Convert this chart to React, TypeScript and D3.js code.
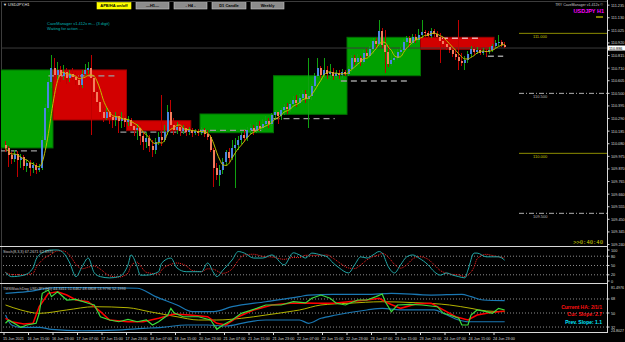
import React from "react";
import * as d3 from "d3";

// ---------- DATA ----------
const firstOpen = 110.07;
const closes = [
  110.045, 109.986, 109.953, 109.995, 109.945, 109.97, 109.895, 109.92, 109.878, 109.903,
  109.861, 109.878, 110.111, 110.378, 110.595, 110.711, 110.653, 110.695, 110.645, 110.678,
  110.628, 110.661, 110.636, 110.611, 110.57, 110.661, 110.695, 110.711, 110.628, 110.511,
  110.428, 110.345, 110.295, 110.345, 110.303, 110.278, 110.311, 110.27, 110.295, 110.261,
  110.278, 110.228, 110.195, 110.211, 110.145, 110.095, 110.128, 110.061, 110.028, 110.095,
  110.136, 110.111, 110.178, 110.345, 110.236, 110.195, 110.22, 110.186, 110.211, 110.178,
  110.195, 110.17, 110.186, 110.17, 110.195, 110.161, 110.136, 110.028, 109.878, 109.82,
  109.861, 109.928, 110.011, 109.961, 110.045, 110.07, 110.111, 110.153, 110.128, 110.195,
  110.211, 110.186, 110.228, 110.211, 110.245, 110.27, 110.245, 110.32, 110.345, 110.311,
  110.361, 110.386, 110.37, 110.411, 110.445, 110.42, 110.461, 110.495, 110.453, 110.478,
  110.561, 110.645, 110.711, 110.653, 110.695, 110.661, 110.678, 110.645, 110.67, 110.653,
  110.678, 110.661, 110.703, 110.795, 110.761, 110.795, 110.761, 110.836, 110.811, 110.87,
  110.936, 110.911, 111.02, 110.903, 110.845, 110.745, 110.778, 110.795, 110.845, 110.861,
  110.928, 110.961, 110.92, 110.97, 110.945, 110.986, 111.011, 111.003, 110.978, 111.02,
  110.995, 110.97, 110.936, 110.911, 110.886, 110.861, 110.828, 110.803, 110.77, 110.753,
  110.778, 110.828, 110.87, 110.845, 110.861, 110.836, 110.853, 110.845, 110.861, 110.895,
  110.92, 110.928, 110.903, 110.886,
];
const highs = [
  110.103, 110.061, 110.011, 110.028, 110.02, 109.995, 109.986, 109.945, 109.945, 109.928,
  109.92, 109.911, 110.145, 110.411, 110.628, 110.82, 110.795, 110.761, 110.728, 110.736,
  110.711, 110.695, 110.711, 110.678, 110.653, 110.695, 110.745, 110.761, 110.82, 110.645,
  110.545, 110.461, 110.378, 110.378, 110.361, 110.336, 110.345, 110.328, 110.345, 110.32,
  110.311, 110.295, 110.261, 110.245, 110.236, 110.178, 110.178, 110.153, 110.111, 110.128,
  110.178, 110.486, 110.236, 110.403, 110.445, 110.295, 110.261, 110.245, 110.236, 110.228,
  110.22, 110.211, 110.203, 110.203, 110.22, 110.211, 110.195, 110.153, 110.045, 109.92,
  109.903, 109.961, 110.028, 110.045, 110.111, 110.128, 110.145, 110.178, 110.195, 110.22,
  110.245, 110.236, 110.261, 110.27, 110.286, 110.311, 110.295, 110.336, 110.361, 110.345,
  110.378, 110.411, 110.42, 110.445, 110.478, 110.486, 110.495, 110.528, 110.528, 110.795,
  110.578, 110.67, 110.795, 110.728, 110.795, 110.728, 110.745, 110.711, 110.695, 110.695,
  110.703, 110.695, 110.728, 110.82, 110.82, 110.828, 110.811, 110.861, 110.87, 110.895,
  110.961, 110.961, 111.111, 111.045, 111.028, 110.903, 110.836, 110.853, 110.87, 110.886,
  110.953, 110.978, 110.978, 110.995, 110.995, 111.036, 111.111, 111.028, 111.02, 111.045,
  111.036, 111.02, 111.003, 110.961, 110.945, 110.92, 110.895, 110.878, 111.111, 110.836,
  110.811, 110.853, 110.895, 110.895, 110.886, 110.886, 110.878, 110.878, 110.886, 110.911,
  110.945, 110.986, 110.945, 110.928,
];
const lows = [
  110.011, 109.886, 109.911, 109.928, 109.803, 109.878, 109.861, 109.845, 109.811, 109.836,
  109.828, 109.845, 109.861, 110.086, 110.345, 110.545, 110.611, 110.611, 110.595, 110.611,
  110.578, 110.595, 110.611, 110.57, 110.528, 110.545, 110.645, 110.661, 110.153, 110.461,
  110.395, 110.295, 110.261, 110.278, 110.245, 110.211, 110.228, 110.17, 110.211, 110.22,
  110.228, 110.195, 110.145, 110.111, 110.07, 110.028, 110.045, 110.011, 109.97, 109.995,
  110.07, 110.061, 110.095, 110.153, 110.178, 110.153, 110.161, 110.145, 110.161, 110.145,
  110.153, 110.136, 110.153, 110.145, 110.153, 110.136, 110.111, 110.011, 109.72, 109.778,
  109.728, 109.828, 109.895, 109.928, 109.945, 109.711, 110.028, 110.078, 110.095, 110.103,
  110.161, 110.153, 110.17, 110.186, 110.195, 110.22, 110.211, 110.228, 110.278, 110.245,
  110.278, 110.32, 110.328, 110.345, 110.395, 110.386, 110.411, 110.428, 110.42, 110.211,
  110.445, 110.545, 110.628, 110.628, 110.628, 110.62, 110.628, 110.611, 110.628, 110.62,
  110.628, 110.645, 110.645, 110.678, 110.736, 110.728, 110.728, 110.745, 110.795, 110.795,
  110.828, 110.878, 110.903, 110.878, 110.67, 110.72, 110.728, 110.761, 110.778, 110.811,
  110.845, 110.895, 110.886, 110.903, 110.92, 110.928, 110.961, 110.97, 110.953, 110.961,
  110.97, 110.945, 110.753, 110.878, 110.861, 110.836, 110.803, 110.778, 110.695, 110.728,
  110.695, 110.753, 110.803, 110.82, 110.828, 110.82, 110.82, 110.803, 110.828, 110.845,
  110.878, 110.895, 110.886, 110.878,
];

// daily CaveManager boxes (bar index range, open, close)
const boxFrom = [-2, 16, 40, 64, 88, 112, 136];
const boxTo = [16, 40, 61, 88, 112, 136, 160];
const boxOpen = [110.045, 110.695, 110.272, 110.172, 110.325, 110.647, 110.967];
const boxClose = [110.695, 110.278, 110.189, 110.328, 110.647, 110.967, 110.867];

// dashed levels
const levelFrom = [-1, 14.5, 38, 64, 88, 110, 143, 158];
const levelTo = [11.5, 36.5, 61, 84, 108, 132, 156, 163];
const levelPrice = [110.02, 110.645, 110.176, 110.192, 110.29, 110.603, 110.959, 110.809];

// right side round-number levels
const roundLevels = [111.0, 110.5, 110.0, 109.5];
const roundLabels = ["111.000", "110.500", "110.000", "109.500"];

const priceTicks = [
  111.235, 111.13, 111.025, 110.92, 110.815, 110.71, 110.605, 110.5, 110.395, 110.29,
  110.185, 110.08, 109.975, 109.87, 109.765, 109.66, 109.555, 109.45, 109.345, 109.24,
];

const timeLabels = [
  "15 Jun 2021", "16 Jun 15:00", "16 Jun 23:00", "17 Jun 07:00", "17 Jun 15:00",
  "17 Jun 23:00", "18 Jun 07:00", "18 Jun 15:00", "20 Jun 23:00", "21 Jun 07:00",
  "21 Jun 15:00", "21 Jun 23:00", "22 Jun 07:00", "22 Jun 15:00", "22 Jun 23:00",
  "23 Jun 07:00", "23 Jun 15:00", "23 Jun 23:00", "24 Jun 07:00", "24 Jun 15:00",
  "24 Jun 23:00",
];
const timeBars = [0, 8, 16, 24, 32, 40, 48, 56, 64, 72, 80, 88, 96, 104, 112, 120, 128, 136, 144, 152, 160];

// Stochastic main line (bar index, value)
const stochMain: [number, number][] = [
  [0, 28], [2, 14], [6, 19], [9, 42], [10, 70], [12, 91], [15, 100], [17, 100], [19, 90], [21, 58],
  [23, 14], [25, 46], [27, 74], [29, 26], [31, 14], [34, 10], [37, 14], [40, 52], [41, 84], [43, 46],
  [44, 19], [46, 19], [50, 30], [51, 58], [54, 74], [56, 42], [59, 30], [61, 30], [64, 30], [66, 58],
  [68, 26], [69, 14], [71, 35], [74, 68], [76, 95], [78, 90], [81, 74], [84, 74], [87, 84], [91, 52],
  [94, 91], [96, 84], [98, 74], [100, 90], [103, 84], [105, 78], [107, 58], [109, 42], [112, 26], [114, 52],
  [116, 78], [118, 74], [120, 84], [122, 95], [123, 90], [125, 46], [127, 26], [129, 52], [131, 78], [133, 84],
  [135, 74], [138, 52], [140, 30], [142, 19], [144, 26], [146, 19], [148, 14], [150, 10], [151, 35], [153, 90],
  [154, 90], [157, 78], [159, 78], [161, 78], [163, 67],
];
const stochLevels = [80, 50, 20];

// TMS WatchDog (TDI) lines
const tdiUpper: [number, number][] = [
  [0, 75.3], [7, 77.4], [16, 82.5], [31, 82.5], [43, 81.8], [49, 71.0], [56, 60.3], [61, 51.7], [68, 51.7],
  [74, 58.1], [85, 64.5], [96, 71.0], [99, 73.1], [107, 74.0], [118, 74.0], [126, 75.3], [139, 73.1],
  [149, 74.0], [152, 71.0], [156, 66.7], [163, 65.8],
];
const tdiLower: [number, number][] = [
  [0, 47.4], [2, 34.6], [5, 31.6], [11, 31.6], [15, 29.0], [25, 27.2], [36, 28.1], [45, 30.3], [51, 31.6],
  [59, 34.6], [66, 34.6], [72, 33.3], [79, 38.4], [85, 41.0], [96, 41.0], [99, 36.8], [103, 43.2],
  [108, 47.4], [118, 53.9], [123, 56.0], [129, 53.9], [140, 53.9], [143, 49.6], [148, 41.0], [151, 38.8],
  [155, 38.8], [163, 38.8],
];
const tdiBase: [number, number][] = [
  [0, 60.3], [5, 53.9], [11, 49.6], [20, 53.9], [29, 58.1], [40, 56.8], [47, 51.7], [56, 45.2], [63, 41.0],
  [69, 41.0], [77, 43.2], [85, 47.4], [94, 52.6], [96, 53.9], [103, 60.3], [112, 62.5], [123, 64.5],
  [134, 63.2], [145, 60.3], [152, 56.0], [157, 52.6], [163, 51.7],
];
const tdiSignal: [number, number][] = [
  [0, 43.2], [2, 38.8], [6, 35.9], [9, 36.8], [11, 58.1], [14, 75.3], [17, 77.4], [20, 73.1], [23, 66.7],
  [27, 64.5], [31, 51.7], [34, 41.0], [40, 38.8], [45, 38.8], [50, 43.2], [55, 48.7], [60, 47.4], [66, 45.2],
  [69, 36.8], [72, 34.6], [76, 45.2], [81, 53.9], [87, 60.3], [93, 62.5], [98, 62.9], [102, 62.5], [107, 62.5],
  [112, 64.5], [118, 66.7], [122, 68.9], [125, 62.5], [129, 56.0], [134, 61.6], [139, 62.5], [144, 51.7],
  [147, 45.2], [151, 41.0], [154, 47.4], [158, 50.4], [163, 52.6],
];
const tdiRsi: [number, number][] = [
  [0, 36.8], [1, 41.0], [5, 31.6], [7, 34.6], [10, 36.8], [11, 49.6], [12, 75.3], [14, 79.6], [15, 71.0],
  [17, 77.4], [20, 66.7], [23, 67.6], [27, 62.5], [29, 60.3], [31, 45.2], [34, 41.0], [37, 38.8], [40, 41.9],
  [43, 38.8], [46, 41.0], [48, 34.6], [50, 38.8], [53, 47.4], [54, 56.0], [55, 50.4], [58, 45.2], [63, 45.2],
  [67, 41.0], [69, 29.0], [71, 34.6], [74, 41.0], [77, 49.6], [82, 56.0], [85, 60.3], [90, 60.3], [94, 64.5],
  [98, 62.9], [100, 68.9], [103, 73.1], [106, 68.9], [108, 62.5], [111, 60.3], [115, 66.7], [118, 66.7],
  [121, 71.0], [123, 74.4], [124, 64.5], [125, 58.1], [126, 51.7], [128, 60.3], [132, 61.2], [136, 60.3],
  [141, 58.1], [143, 49.6], [145, 47.4], [148, 43.2], [149, 34.6], [151, 34.6], [152, 47.4], [154, 53.9],
  [157, 51.7], [159, 49.6], [161, 56.0], [163, 53.9],
];
const tdiLevels = [68, 50, 32];

// ---------- COMPONENT ----------
const FONT = "Liberation Sans, Arial, sans-serif";

export default function App() {
  const W = 625;
  const H = 342;
  const axisX = 607;

  const x = d3.scaleLinear().domain([0, 24]).range([4, 77.5]);
  const cx = (i: number) => x(i) + 1.5;
  const yMain = d3.scaleLinear().domain([109.236, 111.253]).range([245, 3]);
  const yStoch = d3.scaleLinear().domain([0, 100]).range([281, 250]);
  const yTdi = d3.scaleLinear().domain([25.6, 84.7]).range([332, 286]);

  const opens = closes.map((c, i) => (i === 0 ? firstOpen : closes[i - 1]));
  const ma = closes.map((_, i) => d3.mean(closes.slice(Math.max(0, i - 4), i + 1)) as number);

  const maLine = d3
    .line<number>()
    .x((_, i) => cx(i))
    .y((d) => yMain(d))
    .curve(d3.curveMonotoneX);

  const stochSignal: [number, number][] = stochMain.map((p, k) => {
    const a = stochMain.slice(Math.max(0, k - 2), k + 1).map((q) => q[1]);
    return [p[0], d3.mean(a) as number];
  });

  const stochLine = d3
    .line<[number, number]>()
    .x((d) => cx(d[0]))
    .y((d) => yStoch(d[1]))
    .curve(d3.curveMonotoneX);

  const tdiSmooth = d3
    .line<[number, number]>()
    .x((d) => cx(d[0]))
    .y((d) => yTdi(d[1]))
    .curve(d3.curveMonotoneX);
  const tdiSharp = d3
    .line<[number, number]>()
    .x((d) => cx(d[0]))
    .y((d) => yTdi(d[1]))
    .curve(d3.curveLinear);

  const lastClose = closes[closes.length - 1];

  const buttons = [
    { label: "APB/HA on/off", x0: 97, x1: 131, bg: "#ffff00" },
    { label: "\u2014H1\u2014", x0: 136, x1: 169, bg: "#8c8c8c" },
    { label: "- H4 -", x0: 174, x1: 207, bg: "#8c8c8c" },
    { label: "D1 Candle", x0: 212, x1: 246, bg: "#8c8c8c" },
    { label: "Weekly", x0: 251, x1: 284, bg: "#8c8c8c" },
  ];

  return (
    <div style={{ position: "fixed", left: 0, top: 0, width: W, height: H, background: "#000" }}>
      <svg width={W} height={H} style={{ display: "block" }} fontFamily={FONT}>
        <defs>
          <clipPath id="mainClip">
            <rect x={1} y={2} width={axisX - 1} height={243} />
          </clipPath>
          <clipPath id="stochClip">
            <rect x={1} y={248} width={axisX - 1} height={35} />
          </clipPath>
          <clipPath id="tdiClip">
            <rect x={1} y={285} width={axisX - 1} height={47} />
          </clipPath>
        </defs>
        <rect x={0} y={0} width={W} height={H} fill="#000" />

        {/* frame */}
        <line x1={0.5} y1={1.5} x2={axisX} y2={1.5} stroke="#3c3c3c" />
        <line x1={1.5} y1={1.5} x2={1.5} y2={333} stroke="#3c3c3c" />

        <g clipPath="url(#mainClip)">
          {/* day boxes */}
          {boxFrom.map((b, k) => {
            const top = yMain(Math.max(boxOpen[k], boxClose[k]));
            const bot = yMain(Math.min(boxOpen[k], boxClose[k]));
            const bull = boxClose[k] > boxOpen[k];
            return (
              <rect
                key={"box" + k}
                x={x(b)}
                y={top}
                width={x(boxTo[k]) - x(b)}
                height={bot - top}
                fill={bull ? "#00a000" : "#d20000"}
                stroke={bull ? "#007000" : "#9a0000"}
                strokeWidth={1}
              />
            );
          })}

          {/* current price line */}
          <line x1={0} x2={axisX} y1={yMain(lastClose) + 1} y2={yMain(lastClose) + 1} stroke="#3a3a3a" strokeWidth={1} />

          {/* dashed levels */}
          {levelFrom.map((f, k) => (
            <line
              key={"lvl" + k}
              x1={x(f)}
              x2={x(levelTo[k])}
              y1={yMain(levelPrice[k])}
              y2={yMain(levelPrice[k])}
              stroke={k === 6 ? "#e8a8a8" : "#9c9c9c"}
              strokeWidth={1.3}
              strokeDasharray="6,4"
            />
          ))}

          {/* round levels */}
          {roundLevels.map((p, k) => (
            <g key={"rl" + k}>
              <line
                x1={519}
                x2={axisX}
                y1={yMain(p)}
                y2={yMain(p)}
                stroke={k % 2 === 0 ? "#8c8c00" : "#b0b0b0"}
                strokeWidth={1}
                strokeDasharray={k % 2 === 0 ? undefined : "5,2,1,2"}
              />
              <text x={533} y={yMain(p) + 4.5} fontSize={4} fill={k % 2 === 0 ? "#c8c800" : "#b8b8b8"}>
                {roundLabels[k]}
              </text>
            </g>
          ))}

          {/* candles */}
          {closes.map((c, i) => {
            const o = opens[i];
            const bull = c >= o;
            const hi = Math.max(highs[i], o, c);
            const lo = Math.min(lows[i], o, c);
            const top = yMain(Math.max(o, c));
            const bot = yMain(Math.min(o, c));
            return (
              <g key={"c" + i} shapeRendering="crispEdges">
                <line x1={cx(i)} x2={cx(i)} y1={yMain(hi)} y2={yMain(lo)} stroke={bull ? "#10a010" : "#c00000"} strokeWidth={1} />
                <rect x={x(i) + 0.5} y={top} width={2} height={Math.max(1, bot - top)} fill={bull ? "#4a86e0" : "#f47c5c"} />
              </g>
            );
          })}

          {/* moving average */}
          <path d={maLine(ma) || ""} fill="none" stroke="#c0c000" strokeWidth={1} />

          <line x1={596} x2={603} y1={17} y2={17} stroke="#ffff00" strokeWidth={1} />
        </g>

        {/* top-left labels */}
        <text x={3} y={6} fontSize={4} fill="#e0e0e0">{"\u25BC USDJPY,H1"}</text>
        {buttons.map((b, k) => (
          <g key={"btn" + k}>
            <rect x={b.x0} y={2.5} width={b.x1 - b.x0} height={6.5} fill={b.bg} stroke={k === 0 ? "#ffff00" : "#c8c8c8"} strokeWidth={0.6} />
            <text x={(b.x0 + b.x1) / 2} y={7.4} fontSize={4} fontWeight="bold" textAnchor="middle" fill="#000">
              {b.label}
            </text>
          </g>
        ))}
        <text x={47} y={24.5} fontSize={4} fill="#00b4b4">CaveManager v1.412x m... (3 digit)</text>
        <text x={47} y={29.5} fontSize={4} fill="#00b4b4">Waiting for action ....</text>

        {/* top-right labels */}
        <text x={603} y={6} fontSize={3.6} fill="#c8c8c8" textAnchor="end">TRY CaveManager v1.412x ©</text>
        <text x={604} y={12.5} fontSize={5.5} fontWeight="bold" fill="#ff00ff" textAnchor="end">USDJPY H1</text>
        <text x={603} y={244} fontSize={5.5} fill="#c8c800" textAnchor="end" fontFamily="DejaVu Sans Mono, monospace">{">>0:40:40"}</text>

        {/* panel separators */}
        <line x1={0} x2={axisX} y1={246.5} y2={246.5} stroke="#d8d8d8" strokeWidth={1.2} />
        <line x1={0} x2={axisX} y1={283.5} y2={283.5} stroke="#d8d8d8" strokeWidth={1.2} />
        <line x1={0} x2={axisX} y1={332.5} y2={332.5} stroke="#d8d8d8" strokeWidth={1} />
        <line x1={axisX + 0.5} x2={axisX + 0.5} y1={0} y2={333} stroke="#d8d8d8" strokeWidth={1} />

        {/* price axis */}
        {priceTicks.map((p, k) => (
          <g key={"pt" + k}>
            <line x1={axisX} x2={axisX + 2.5} y1={yMain(p)} y2={yMain(p)} stroke="#d8d8d8" />
            <text x={611} y={yMain(p) + 1.5} fontSize={3.8} fill="#d8d8d8">{p.toFixed(3)}</text>
          </g>
        ))}
        <rect x={axisX + 1} y={yMain(lastClose) - 1.5} width={17} height={5} fill="#ffffff" />
        <text x={609} y={yMain(lastClose) + 2.5} fontSize={3.8} fill="#000">{lastClose.toFixed(3)}</text>

        {/* stochastic panel */}
        <g clipPath="url(#stochClip)">
          {stochLevels.map((v) => (
            <line key={"sl" + v} x1={0} x2={axisX} y1={yStoch(v)} y2={yStoch(v)} stroke="#8c8c8c" strokeDasharray="1,2" />
          ))}
          <path d={stochLine(stochSignal) || ""} fill="none" stroke="#ff2020" strokeWidth={1} strokeDasharray="1,1" />
          <path d={stochLine(stochMain) || ""} fill="none" stroke="#20a8a8" strokeWidth={1} />
        </g>
        <text x={3} y={252.5} fontSize={3.8} fill="#c8c8c8">Stoch(8,3,3) 67.2671 62.8975</text>
        {[100, 80, 50, 20, 0].map((v) => (
          <g key={"sa" + v}>
            <line x1={axisX} x2={axisX + 2.5} y1={yStoch(v)} y2={yStoch(v)} stroke="#d8d8d8" />
            <text x={611} y={yStoch(v) + 1.5} fontSize={3.8} fill="#d8d8d8">{String(v)}</text>
          </g>
        ))}

        {/* TDI panel */}
        <g clipPath="url(#tdiClip)">
          {tdiLevels.map((v) => (
            <line key={"tl" + v} x1={0} x2={axisX} y1={yTdi(v)} y2={yTdi(v)} stroke="#8c8c8c" strokeDasharray="1,2" />
          ))}
          <path d={tdiSmooth(tdiUpper) || ""} fill="none" stroke="#1a78b4" strokeWidth={1.2} />
          <path d={tdiSmooth(tdiLower) || ""} fill="none" stroke="#1a78b4" strokeWidth={1.2} />
          <path d={tdiSmooth(tdiBase) || ""} fill="none" stroke="#b4b400" strokeWidth={1} />
          <path d={tdiSharp(tdiSignal) || ""} fill="none" stroke="#ff0000" strokeWidth={1.5} />
          <path d={tdiSharp(tdiRsi) || ""} fill="none" stroke="#3cdc3c" strokeWidth={1.2} />
        </g>
        <text x={3} y={289.5} fontSize={3.8} fill="#c8c8c8">TMSWatchDog USDJPY(H1) 44.3411 51.6462 48.6808 53.9796 52.1993</text>
        <text x={602} y={308.5} fontSize={5} fontWeight="bold" fill="#ff1010" textAnchor="end">Current HA: 2/1/1</text>
        <text x={602} y={316} fontSize={5} fontWeight="bold" fill="#ff1010" textAnchor="end">Cur. Slope: 2.7</text>
        <text x={602} y={323.5} fontSize={5} fontWeight="bold" fill="#00e8ff" textAnchor="end">Prev. Slope: 1.1</text>
        <text x={611} y={288.5} fontSize={3.6} fill="#d8d8d8">81.4976</text>
        {tdiLevels.map((v) => (
          <g key={"ta" + v}>
            <line x1={axisX} x2={axisX + 2.5} y1={yTdi(v)} y2={yTdi(v)} stroke="#d8d8d8" />
            <text x={611} y={yTdi(v) + 1.5} fontSize={3.8} fill="#d8d8d8">{String(v)}</text>
          </g>
        ))}
        <text x={611} y={332} fontSize={3.6} fill="#d8d8d8">24.8027</text>

        {/* time axis */}
        {timeLabels.map((t, k) => (
          <g key={"tx" + k}>
            <line x1={x(timeBars[k])} x2={x(timeBars[k])} y1={333} y2={335} stroke="#d8d8d8" />
            <text x={x(timeBars[k]) - 1} y={339.5} fontSize={3.8} fill="#d8d8d8">{t}</text>
          </g>
        ))}
      </svg>
    </div>
  );
}
